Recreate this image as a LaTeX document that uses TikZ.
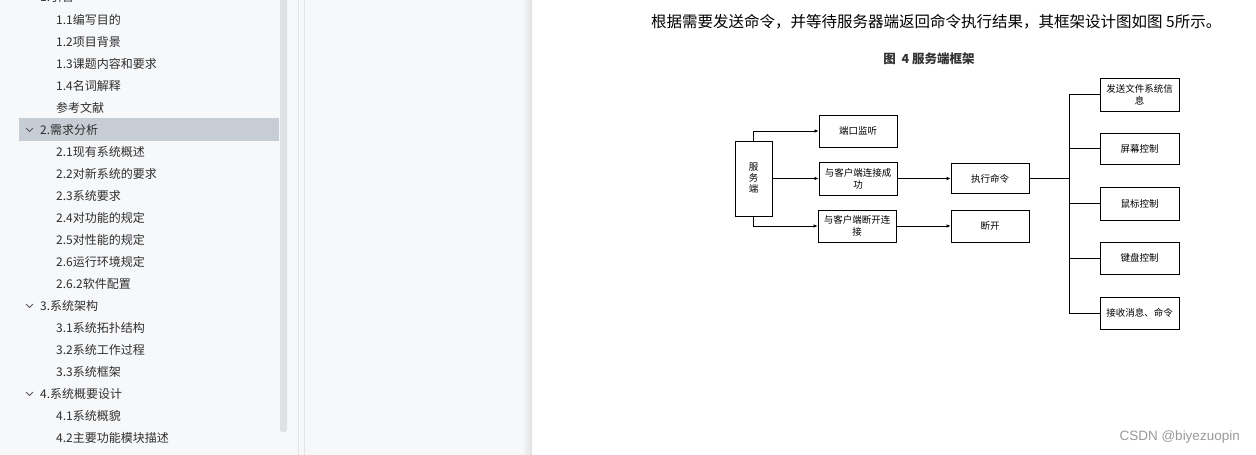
\documentclass[tikz,border=0pt]{standalone}
\usepackage{fontspec}
\setmainfont{Noto Sans CJK SC}
\newfontfamily\wmfont{Liberation Sans}
\usetikzlibrary{arrows.meta}
\definecolor{sidebg}{HTML}{F7F8FA}
\definecolor{hilite}{HTML}{C6CDD4}
\definecolor{scrollc}{HTML}{DEE2E5}
\definecolor{sepline}{HTML}{E2E4E8}
\definecolor{tocc}{HTML}{2E2E2E}
\definecolor{shadowc}{HTML}{E0E1E3}
\definecolor{wmc}{HTML}{9A9A9A}
\tikzset{
  tocitem/.style={anchor=west, inner sep=0pt, text=tocc, font=\fontsize{12}{14}\selectfont},
  chev/.style={draw=tocc!80, line width=0.8pt},
  fbox/.style={draw=black, line width=0.9pt, minimum width=78pt, inner sep=1pt, align=center, font=\fontsize{9.5}{12}\selectfont},
  conn/.style={draw=black, line width=0.9pt},
  arr/.style={conn, -{Latex[length=4pt,width=3.6pt]}}
}
\begin{document}
\begin{tikzpicture}[x=1pt,y=-1pt]
\useasboundingbox (0,0) rectangle (1256,455);
\clip (0,0) rectangle (1256,455);
% backgrounds
\fill[sidebg] (0,0) rectangle (532,455);
\fill[white] (532,0) rectangle (1256,455);
\shade[left color=sidebg, right color=shadowc] (522,0) rectangle (532,455);
\fill[hilite] (19,118) rectangle (279,141);
\fill[scrollc, rounded corners=2pt] (280,-5) rectangle (287,432);
\draw[sepline, line width=0.8pt] (298.5,0) -- (298.5,455);
\draw[sepline, line width=0.8pt] (304.5,0) -- (304.5,455);
% TOC
\node[tocitem] (t0) at (40,-3) {1.引言};
\draw[chev] (26,-4) -- (29.5,-0.5) -- (33,-4);
\node[tocitem] (t11) at (56,20) {1.1编写目的};
\node[tocitem] (t12) at (56,42) {1.2项目背景};
\node[tocitem] (t13) at (56,64) {1.3课题内容和要求};
\node[tocitem] (t14) at (56,86) {1.4名词解释};
\node[tocitem] (t15) at (56,108) {参考文献};
\draw[chev] (26,128) -- (29.5,131.5) -- (33,128);
\node[tocitem] (t2) at (40,130) {2.需求分析};
\node[tocitem] (t21) at (56,152) {2.1现有系统概述};
\node[tocitem] (t22) at (56,174) {2.2对新系统的要求};
\node[tocitem] (t23) at (56,196) {2.3系统要求};
\node[tocitem] (t24) at (56,218) {2.4对功能的规定};
\node[tocitem] (t25) at (56,240) {2.5对性能的规定};
\node[tocitem] (t26) at (56,262) {2.6运行环境规定};
\node[tocitem] (t262) at (56,284) {2.6.2软件配置};
\draw[chev] (26,304) -- (29.5,307.5) -- (33,304);
\node[tocitem] (t3) at (40,306) {3.系统架构};
\node[tocitem] (t31) at (56,328) {3.1系统拓扑结构};
\node[tocitem] (t32) at (56,350) {3.2系统工作过程};
\node[tocitem] (t33) at (56,372) {3.3系统框架};
\draw[chev] (26,392) -- (29.5,395.5) -- (33,392);
\node[tocitem] (t4) at (40,394) {4.系统概要设计};
\node[tocitem] (t41) at (56,416) {4.1系统概貌};
\node[tocitem] (t42) at (56,438) {4.2主要功能模块描述};
% page text
\node[anchor=west, inner sep=0pt, font=\fontsize{15.5}{18}\selectfont] (para) at (651,22) {根据需要发送命令，并等待服务器端返回命令执行结果，其框架设计图如图 5所示。};
\node[inner sep=0pt, font=\fontsize{12.5}{14}\selectfont\bfseries, text=black!80] (cap) at (929,59) {图\ \ 4\ 服务端框架};
% diagram
\node[fbox, minimum width=37pt, minimum height=75pt, font=\fontsize{9.5}{11}\selectfont] (srv) at (753.5,178.5) {服\\务\\端};
\node[fbox, minimum height=32pt] (listen) at (858,131) {端口监听};
\node[fbox, minimum height=33pt] (cn) at (858,178.5) {与客户端连接成\\功};
\node[fbox, minimum height=32pt] (disc) at (857,226) {与客户端断开连\\接};
\node[fbox, minimum height=30pt] (exec) at (990,178.5) {执行命令};
\node[fbox, minimum height=32pt] (brk) at (990,226) {断开};
\node[fbox, minimum width=79pt, minimum height=33pt] (r1) at (1139.5,94.5) {发送文件系统信\\息};
\node[fbox, minimum width=79pt, minimum height=31pt] (r2) at (1139.5,148.5) {屏幕控制};
\node[fbox, minimum width=79pt, minimum height=33pt] (r3) at (1139.5,203.5) {鼠标控制};
\node[fbox, minimum width=79pt, minimum height=32pt] (r4) at (1139.5,258) {键盘控制};
\node[fbox, minimum width=79pt, minimum height=32pt] (r5) at (1139.5,313) {接收消息、命令};
\coordinate (tk) at (1069,0);
\draw[arr] (srv.north) |- (listen.west);
\draw[arr] (srv.east) -- (cn.west);
\draw[arr] (srv.south) |- (disc.west);
\draw[arr] (cn.east) -- (exec.west);
\draw[arr] (disc.east) -- (brk.west);
\draw[conn] (exec.east) -- (exec.east -| tk);
\draw[conn] (r1.west) -- (r1.west -| tk) -- (r5.west -| tk) -- (r5.west);
\draw[conn] (r2.west) -- (r2.west -| tk);
\draw[conn] (r3.west) -- (r3.west -| tk);
\draw[conn] (r4.west) -- (r4.west -| tk);
% watermark
\node[anchor=east, inner sep=0pt, text=wmc, font=\wmfont\fontsize{13.5}{15}\selectfont] (wm) at (1240,437) {CSDN @biyezuopin};
\end{tikzpicture}
\end{document}
